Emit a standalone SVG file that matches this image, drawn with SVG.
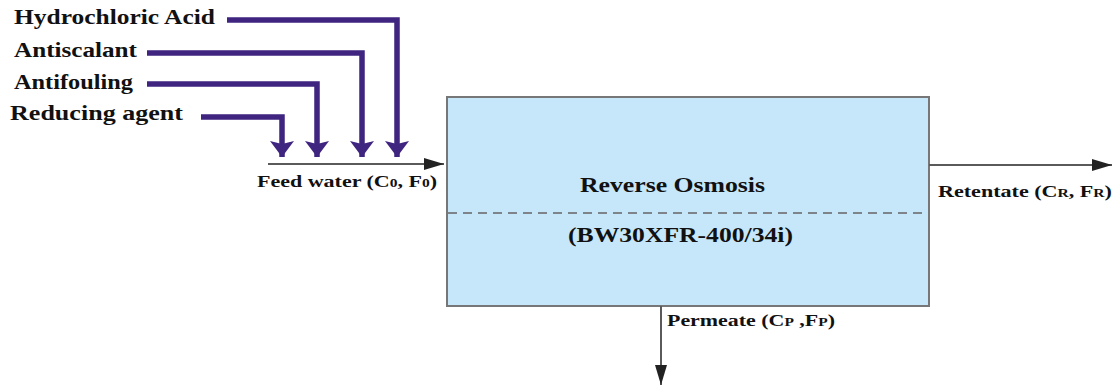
<svg xmlns="http://www.w3.org/2000/svg" width="1116" height="389" viewBox="0 0 1116 389">
<style>
text{font-family:"Liberation Serif","Times New Roman",serif;font-weight:bold;fill:#111}
.lbl{font-size:21px}
.sm{font-size:17px}
.big{font-size:20px}
.sub{font-size:12px}
.chem{fill:none;stroke:#3f2580;stroke-width:5.5}
.flow{fill:none;stroke:#5a5a5a;stroke-width:2}
</style>
<defs>
<marker id="ph" viewBox="0 0 16 24" refX="16" refY="12" markerWidth="16" markerHeight="24" markerUnits="userSpaceOnUse" orient="auto">
<path d="M0,0 L16,12 L0,24 L3,12 Z" fill="#3f2580"/>
</marker>
<marker id="gh" viewBox="0 0 20 12" refX="20" refY="6" markerWidth="20" markerHeight="12" markerUnits="userSpaceOnUse" orient="auto">
<path d="M0,0 L20,6 L0,12 Z" fill="#222"/>
</marker>
</defs>
<g id="ro">
<rect x="447" y="97" width="482" height="209" fill="#c6e7f9" stroke="#777" stroke-width="2"/>
<line x1="448" y1="213" x2="928" y2="213" stroke="#666" stroke-width="1.5" stroke-dasharray="9,6"/>
<text class="big" x="580" y="192" textLength="185" lengthAdjust="spacingAndGlyphs">Reverse Osmosis</text>
<text class="big" x="568" y="242" textLength="225" lengthAdjust="spacingAndGlyphs">(BW30XFR-400/34i)</text>
</g>
<g id="chemicals">
<text class="lbl" x="14" y="24" textLength="201" lengthAdjust="spacingAndGlyphs">Hydrochloric Acid</text>
<text class="lbl" x="14" y="57" textLength="123" lengthAdjust="spacingAndGlyphs">Antiscalant</text>
<text class="lbl" x="14" y="89" textLength="119" lengthAdjust="spacingAndGlyphs">Antifouling</text>
<text class="lbl" x="10" y="120" textLength="173" lengthAdjust="spacingAndGlyphs">Reducing agent</text>
</g>
<g id="connectors">
<path class="chem" d="M227,20 H397 V157" marker-end="url(#ph)"/>
<path class="chem" d="M147,53 H362 V157" marker-end="url(#ph)"/>
<path class="chem" d="M147,84 H317 V157" marker-end="url(#ph)"/>
<path class="chem" d="M201,117 H282 V157" marker-end="url(#ph)"/>
<line class="flow" x1="268" y1="164" x2="444" y2="164" marker-end="url(#gh)"/>
<line class="flow" x1="929" y1="165" x2="1112" y2="165" marker-end="url(#gh)"/>
<line class="flow" x1="661" y1="306" x2="661" y2="385" marker-end="url(#gh)"/>
</g>
<g id="labels">
<text class="sm" x="257" y="187" textLength="180" lengthAdjust="spacingAndGlyphs">Feed water (C<tspan class="sub">0</tspan>, F<tspan class="sub">0</tspan>)</text>
<text class="sm" x="938" y="197" textLength="174" lengthAdjust="spacingAndGlyphs">Retentate (C<tspan class="sub">R</tspan>, F<tspan class="sub">R</tspan>)</text>
<text class="sm" x="667" y="326" textLength="168" lengthAdjust="spacingAndGlyphs">Permeate (C<tspan class="sub">P</tspan> ,F<tspan class="sub">P</tspan>)</text>
</g>
</svg>
